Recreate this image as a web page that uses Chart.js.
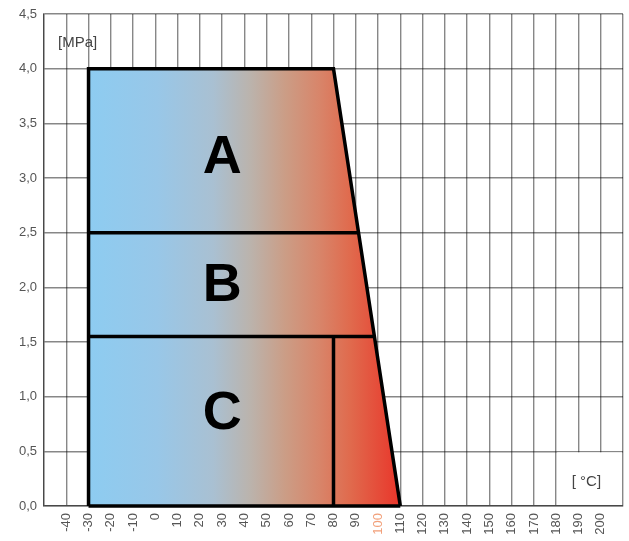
<!DOCTYPE html>
<html>
<head>
<meta charset="utf-8">
<script src="https://cdn.jsdelivr.net/npm/chart.js@4.4.1/dist/chart.umd.min.js"></script>
<style>
  html, body { margin: 0; padding: 0; background: #fff; }
  #wrap { width: 629px; height: 541px; }
</style>
</head>
<body>
<div id="wrap"><canvas id="chart"></canvas></div>
<script>
// --- Data ---
const tempTickLabels = ['-40', '-30', '-20', '-10', '0', '10', '20', '30', '40', '50', '60', '70', '80', '90', '100', '110', '120', '130', '140', '150', '160', '170', '180', '190', '200'];
const pressTickLabels = ['0,0', '0,5', '1,0', '1,5', '2,0', '2,5', '3,0', '3,5', '4,0', '4,5'];

// operating envelope (temperature °C, pressure MPa)
const envelopeT = [-30, -30, 80, 110];
const envelopeP = [0, 4.0, 4.0, 0];

// pressure classes
const classNames = ['A', 'B', 'C'];
const classDividers = [2.5, 1.55];     // boundaries between A/B and B/C
const classLabelT = [30, 30, 30];
const classLabelP = [3.2, 2.03, 0.86];
const classCLimitT = 80;               // vertical line of class C

// temperature on the sloped edge for a given pressure
function slopeT(p) {
    const t0 = envelopeT[2], p0 = envelopeP[2], t1 = envelopeT[3], p1 = envelopeP[3];
    return t0 + (t1 - t0) * (p - p0) / (p1 - p0);
}

const pts = (xs, ys) => xs.map((x, i) => ({ x: x, y: ys[i] }));

const lineStyle = { showLine: true, pointRadius: 0, borderColor: '#000', borderWidth: 3.5, fill: false, order: 0, clip: 4 };

const datasets = [
    {
        ...lineStyle,
        order: 10, // draw the filled area first
        data: pts(envelopeT, envelopeP),
        fill: 'origin',
        backgroundColor: (context) => {
            const chart = context.chart;
            const area = chart.chartArea;
            if (!area) return '#9ac6e6';
            const xs = chart.scales.x;
            const a = xs.getPixelForValue(envelopeT[0]);
            const b = xs.getPixelForValue(envelopeT[3]);
            const g = chart.ctx.createLinearGradient(a, 0, b, 0);
            g.addColorStop(0.00, '#8dccf1');
            g.addColorStop(0.22, '#98c7e8');
            g.addColorStop(0.40, '#a9c0d2');
            g.addColorStop(0.52, '#bbb3ac');
            g.addColorStop(0.63, '#cb9d86');
            g.addColorStop(0.74, '#d8856a');
            g.addColorStop(0.84, '#e06a4d');
            g.addColorStop(1.00, '#e9352a');
            return g;
        }
    },
    // bottom edge
    { ...lineStyle, data: pts([envelopeT[0], envelopeT[3]], [0, 0]) },
    // class dividers
    ...classDividers.map(p => ({ ...lineStyle, data: pts([envelopeT[0], slopeT(p)], [p, p]) })),
    // class C vertical limit
    { ...lineStyle, data: pts([classCLimitT, classCLimitT], [0, classDividers[1]]) }
];

// letters and units as text
const textPlugin = {
    id: 'texts',
    afterDraw(chart) {
        const ctx = chart.ctx;
        const xs = chart.scales.x, ys = chart.scales.y;
        ctx.save();

        // white box behind the unit label
        const bx = xs.getPixelForValue(180), by = ys.getPixelForValue(0.5);
        const ex = xs.getPixelForValue(210), ey = ys.getPixelForValue(0);
        ctx.fillStyle = '#fff';
        ctx.fillRect(bx + 1, by + 1, ex - bx - 2, ey - by - 2);

        ctx.fillStyle = '#000';
        ctx.font = 'bold 54px "Liberation Sans", Arial, sans-serif';
        ctx.textAlign = 'center';
        ctx.textBaseline = 'middle';
        classNames.forEach((n, i) => {
            ctx.fillText(n, xs.getPixelForValue(classLabelT[i]), ys.getPixelForValue(classLabelP[i]) + 2);
        });

        ctx.fillStyle = '#444';
        ctx.font = '15px "Liberation Sans", Arial, sans-serif';
        ctx.textAlign = 'left';
        ctx.fillText('[MPa]', chart.chartArea.left + 14, ys.getPixelForValue(4.24));
        ctx.fillText('[ °C]', xs.getPixelForValue(187), ys.getPixelForValue(0.22));
        ctx.restore();
    }
};

const gridColor = 'rgba(0,0,0,0.47)';

new Chart(document.getElementById('chart'), {
    type: 'scatter',
    data: { datasets: datasets },
    plugins: [textPlugin],
    options: {
        responsive: true,
        maintainAspectRatio: false,
        animation: false,
        layout: { padding: { top: 14, right: 6, left: 0, bottom: 0 } },
        plugins: { legend: { display: false }, tooltip: { enabled: false } },
        scales: {
            x: {
                type: 'linear',
                min: -50,
                max: 210,
                z: 1,
                afterFit: (scale) => { scale.height = 35; scale.paddingLeft = 0; scale.paddingRight = 0; },
                grid: { color: gridColor, lineWidth: 1.4, drawTicks: false },
                border: { color: gridColor, width: 1.4 },
                ticks: {
                    stepSize: 10,
                    minRotation: 90,
                    maxRotation: 90,
                    padding: 7,
                    autoSkip: false,
                    font: { family: '"Liberation Sans", Arial, sans-serif', size: 13 },
                    color: (c) => c.tick && c.tick.value === 100 ? '#f2a07a' : '#555',
                    callback: (v) => tempTickLabels.includes(String(v)) ? String(v) : ''
                }
            },
            y: {
                min: 0,
                max: 4.5,
                z: 1,
                afterFit: (scale) => { scale.width = 44; scale.paddingTop = 0; scale.paddingBottom = 0; },
                grid: { color: gridColor, lineWidth: 1.4, drawTicks: false },
                border: { color: gridColor, width: 1.4 },
                ticks: {
                    stepSize: 0.5,
                    padding: 7,
                    font: { family: '"Liberation Sans", Arial, sans-serif', size: 13 },
                    color: '#555',
                    callback: (v) => pressTickLabels[Math.round(v / 0.5)]
                }
            }
        }
    }
});
</script>
</body>
</html>
